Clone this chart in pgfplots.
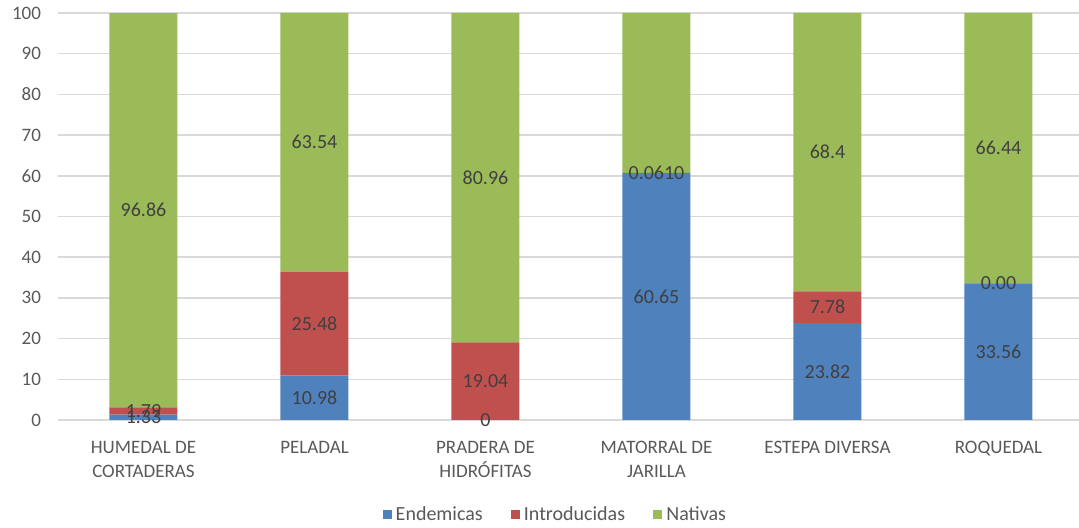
\documentclass[border=0pt]{standalone}
\usepackage{fontspec}
\setmainfont{Carlito}
\usepackage{pgfplots}
\usepackage{pgfplotstable}
\pgfplotsset{compat=1.18}

\definecolor{endem}{HTML}{4F81BD}
\definecolor{intro}{HTML}{C0504D}
\definecolor{nativ}{HTML}{9BBB59}
\definecolor{gridgray}{HTML}{D9D9D9}
\definecolor{textgray}{HTML}{595959}
\definecolor{labelgray}{HTML}{404040}

% Percentage of species per vegetation unit
\pgfplotstableread{
x y label
0 1.33 1.33
1 10.98 10.98
2 0 0
3 60.65 60.65
4 23.82 23.82
5 33.56 33.56
}\endemicas
\pgfplotstableread{
x y label
0 1.79 1.79
1 25.48 25.48
2 19.04 19.04
3 0.061 0.0610
4 7.78 7.78
5 0 0.00
}\introducidas
\pgfplotstableread{
x y label
0 96.86 96.86
1 63.54 63.54
2 80.96 80.96
3 39.29 39.29
4 68.4 68.4
5 66.44 66.44
}\nativas

\begin{document}
\begin{tikzpicture}
\begin{axis}[
  set layers=standard,
  mark layer=axis foreground,
  scale only axis,
  width=510.5pt, height=203.5pt,
  ybar stacked,
  stacked ignores zero=false,
  bar width=34pt,
  xmin=-0.5, xmax=5.4708,
  ymin=0, ymax=100,
  ytick={0,10,...,100},
  xtick={0,1,2,3,4,5},
  xticklabels={{HUMEDAL DE\\CORTADERAS},{PELADAL},{PRADERA DE\\HIDRÓFITAS},{MATORRAL DE\\JARILLA},{ESTEPA DIVERSA},{ROQUEDAL}},
  ymajorgrids,
  grid style={draw=gridgray, line width=0.75pt},
  axis line style={draw=none},
  tick style={draw=none},
  /pgf/number format/assume math mode=true,
  ticklabel style={font=\fontsize{9.5}{12}\selectfont, text=textgray},
  xticklabel style={align=center, yshift=-7pt},
  yticklabel style={xshift=-5pt},
  legend style={at={(0.488,-0.233)}, anchor=center, legend columns=3, draw=none,
    font=\fontsize{10}{12}\selectfont, text=textgray,
    /tikz/every even column/.append style={column sep=12pt}},
  legend image code/.code={\fill[#1] (0pt,-2.3pt) rectangle (4.6pt,2.3pt);},
  point meta=explicit symbolic,
  nodes near coords,
  every node near coord/.append style={anchor=center, font=\fontsize{10}{12}\selectfont,
    text=labelgray},
]
\addplot[fill=endem, draw=none] table[x=x, y=y, meta=label] {\endemicas};
\addplot[fill=intro, draw=none] table[x=x, y=y, meta=label] {\introducidas};
\addplot[fill=nativ, draw=none] table[x=x, y=y, meta=label] {\nativas};
\legend{Endemicas, Introducidas, Nativas}
\coordinate (sw) at (rel axis cs:0,0);
\coordinate (ne) at (rel axis cs:1,1);
\end{axis}
\pgfresetboundingbox
\path[use as bounding box] ([shift={(-29pt,-54pt)}]sw) rectangle ([shift={(0pt,6.5pt)}]ne);
\end{tikzpicture}
\end{document}
